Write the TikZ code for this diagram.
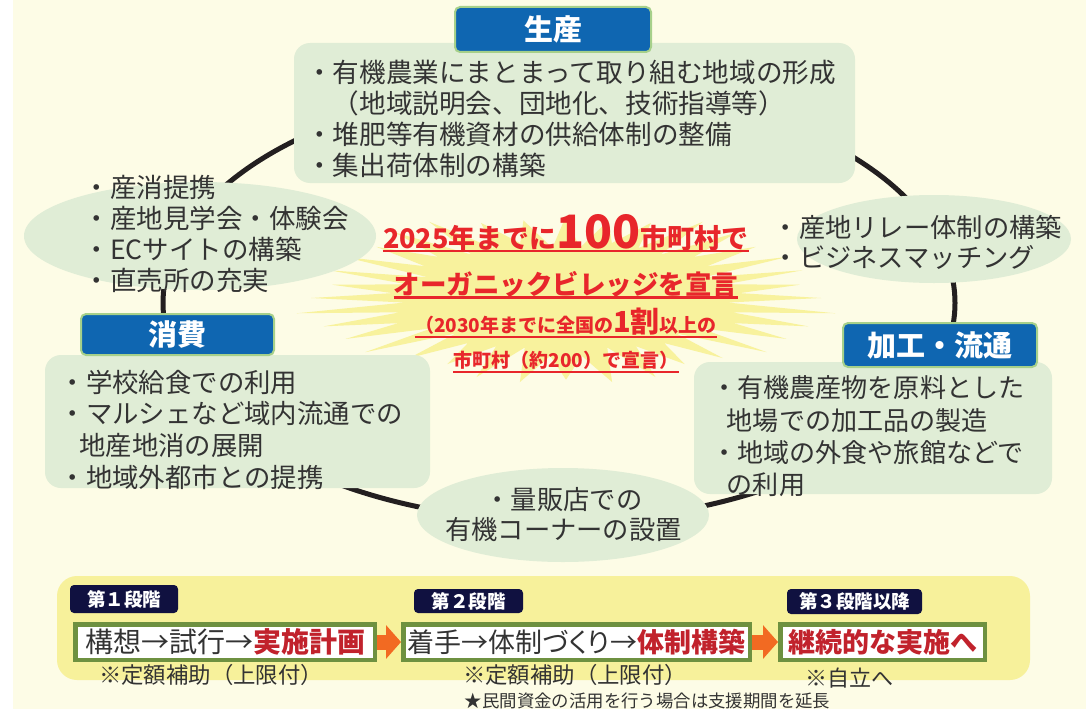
\documentclass[tikz,border=0pt]{standalone}
\usepackage{fontspec}
\setmainfont{Noto Sans CJK JP}
\usetikzlibrary{arrows.meta,shapes.geometric}
\definecolor{cBg}{HTML}{FDFCE6}
\definecolor{cGreen}{HTML}{E0EDD6}
\definecolor{cBlue}{HTML}{0F66B1}
\definecolor{cBBorder}{HTML}{A6D08A}
\definecolor{cBurst}{HTML}{F8F29D}
\definecolor{cPanel}{HTML}{F7F19B}
\definecolor{cNavy}{HTML}{101140}
\definecolor{cOlive}{HTML}{6E9140}
\definecolor{cOrange}{HTML}{F26A22}
\definecolor{cDRed}{HTML}{C1222C}
\definecolor{cRed}{HTML}{E8262B}
\definecolor{cTxt}{HTML}{333333}
\definecolor{cRing}{HTML}{231F20}
\begin{document}
\begin{tikzpicture}[x=1pt,y=-1pt,
  gbox/.style={fill=cGreen,draw=none,inner sep=0,rectangle,rounded corners=16pt},
  gell/.style={fill=cGreen,draw=none,inner sep=0,ellipse},
  blabel/.style={rectangle,rounded corners=5pt,fill=cBlue,draw=cBBorder,line width=2pt,text=white,font=\fontsize{29}{29}\selectfont\bfseries,inner sep=0},
  body/.style={inner sep=0,align=left,anchor=west,text=cTxt},
  redl/.style={inner sep=0,anchor=base,text=cRed},
  uline/.style={draw=cRed,line width=2.2pt},
  panelbox/.style={fill=cPanel,rounded corners=20pt,inner sep=0},
  stagelbl/.style={fill=cNavy,rounded corners=4pt,text=white,inner sep=0,font=\fontsize{18.5}{18.5}\selectfont\bfseries},
  stepbox/.style={fill=white,draw=cOlive,line width=4.5pt,inner sep=0,text=cTxt,font=\fontsize{28}{28}\selectfont},
  flow/.style={draw=cOrange,line width=15pt,-{Triangle[length=15pt,width=33pt]}},
  note/.style={inner sep=0,text=cTxt},
  ringline/.style={draw=cRing,line width=5pt}
]
\useasboundingbox (0,0) rectangle (1086,709);
\fill[cBg] (0,0) rectangle (1086,709);
\fill[white] (0,0) rectangle (12.5,709);

% ring
\draw[ringline] (559,303) ellipse [x radius=396, y radius=218];

% starburst
\fill[cBurst] plot[domain=0:360,samples=73,variable=\t]
  ({566+255*(0.83+0.17*cos(36*\t)*(1+0.25*sin(11*\t)))*(1+0.04*sin(5*\t))*cos(\t)},
   {298+82*(0.83+0.17*cos(36*\t)*(1+0.25*sin(11*\t)))*(1+0.04*sin(5*\t))*sin(\t)}) -- cycle;

% green shapes
\node[gbox,minimum width=561,minimum height=140] (prodbox) at (574.5,113) {};
\node[gell,minimum width=352,minimum height=108] (linkell) at (200,236) {};
\node[gell,minimum width=274,minimum height=88] (relayell) at (934,239) {};
\node[gbox,minimum width=385,minimum height=133] (consbox) at (237.5,421.5) {};
\node[gbox,minimum width=358,minimum height=132] (procbox) at (873,428) {};
\node[gell,minimum width=292,minimum height=94] (shopell) at (563,515) {};

% blue labels
\node[blabel,minimum width=196,minimum height=45] (prodlbl) at (553,29.5) {生産};
\node[blabel,minimum width=193,minimum height=41] (conslbl) at (177.5,334.5) {消費};
\node[blabel,minimum width=194,minimum height=44] (proclbl) at (940,345) {加工・流通};

% body texts
\node[body,font=\fontsize{26.6}{31}\selectfont] (prodtxt) at (306,118.5)
  {・有機農業にまとまって取り組む地域の形成\\\hspace*{1em}（地域説明会、団地化、技術指導等）\\・堆肥等有機資材の供給体制の整備\\・集出荷体制の構築};
\node[body,font=\fontsize{26.5}{31}\selectfont] (linktxt) at (83.5,233.5)
  {・産消提携\\・産地見学会・体験会\\・ECサイトの構築\\・直売所の充実};
\node[body,font=\fontsize{26.3}{30}\selectfont] (relaytxt) at (772.5,242)
  {・産地リレー体制の構築\\・ビジネスマッチング};
\node[body,font=\fontsize{26.4}{31.7}\selectfont] (constxt) at (59.5,429.5)
  {・学校給食での利用\\・マルシェなど域内流通での\\\hspace*{0.74em}地産地消の展開\\・地域外都市との提携};
\node[body,font=\fontsize{26.1}{32.3}\selectfont] (proctxt) at (711,436.5)
  {・有機農産物を原料とした\\\hspace*{0.6em}地場での加工品の製造\\・地域の外食や旅館などで\\\hspace*{0.6em}の利用};
\node[inner sep=0,align=center,text=cTxt,font=\fontsize{26.3}{30}\selectfont] (shoptxt) at (563.5,515)
  {・量販店での\\有機コーナーの設置};

% center declaration
\node[redl,font=\fontsize{27}{27}\selectfont\bfseries] (dec1) at (566,248)
  {2025年までに{\fontsize{46}{46}\selectfont 100}市町村で};
\node[redl,font=\fontsize{26.5}{26.5}\selectfont\bfseries] (dec2) at (566,294.5)
  {オーガニックビレッジを宣言};
\node[redl,font=\fontsize{19}{19}\selectfont\bfseries] (dec3) at (566,332)
  {（2030年までに全国の{\fontsize{29}{29}\selectfont 1割}以上の};
\node[redl,font=\fontsize{19}{19}\selectfont\bfseries] (dec4) at (566,367)
  {市町村（約200）で宣言）};
\draw[uline] ([yshift=-3pt]dec1.base west) -- ([yshift=-3pt]dec1.base east);
\draw[uline] ([yshift=-3pt]dec2.base west) -- ([yshift=-3pt]dec2.base east);
\draw[uline,line width=2pt] ([yshift=-5pt]dec3.base west) -- ([yshift=-5pt]dec3.base east);
\draw[uline,line width=2pt] ([yshift=-5pt]dec4.base west) -- ([yshift=-5pt]dec4.base east);

% stages panel
\node[panelbox,minimum width=973,minimum height=104] (panel) at (543.5,628) {};
\node[stagelbl,minimum width=108,minimum height=28] (st1) at (124,599) {第１段階};
\node[stagelbl,minimum width=109,minimum height=24] (st2) at (468.5,601) {第２段階};
\node[stagelbl,minimum width=135,minimum height=25] (st3) at (854.5,601.5) {第３段階以降};

\node[stepbox,minimum width=299.5,minimum height=35.5] (b1) at (225,642)
  {構想→試行→{\bfseries\color{cDRed}実施計画}};
\node[stepbox,minimum width=346.5,minimum height=35.5,font=\fontsize{27}{27}\selectfont] (b2) at (576.5,642)
  {着手→体制{\addfontfeature{RawFeature=+palt}づくり}→{\bfseries\color{cDRed}体制構築}};
\node[stepbox,minimum width=204.5,minimum height=35.5,font=\fontsize{27}{27}\selectfont\bfseries,text=cDRed] (b3) at (882.5,642)
  {継続的な実施へ};
\draw[flow] (b1.east) -- (b2.west);
\draw[flow] (b2.east) -- (b3.west);

\node[note,font=\fontsize{22.4}{22.4}\selectfont] (n1) at (211,675) {※定額補助（上限付）};
\node[note,font=\fontsize{22.4}{22.4}\selectfont] (n2) at (575,675) {※定額補助（上限付）};
\node[note,font=\fontsize{22}{22}\selectfont] (n3) at (849,678) {※自立へ};
\node[note,font=\fontsize{17.4}{17.4}\selectfont] (n4) at (647.5,701) {★民間資金の活用を行う場合は支援期間を延長};
\end{tikzpicture}
\end{document}
